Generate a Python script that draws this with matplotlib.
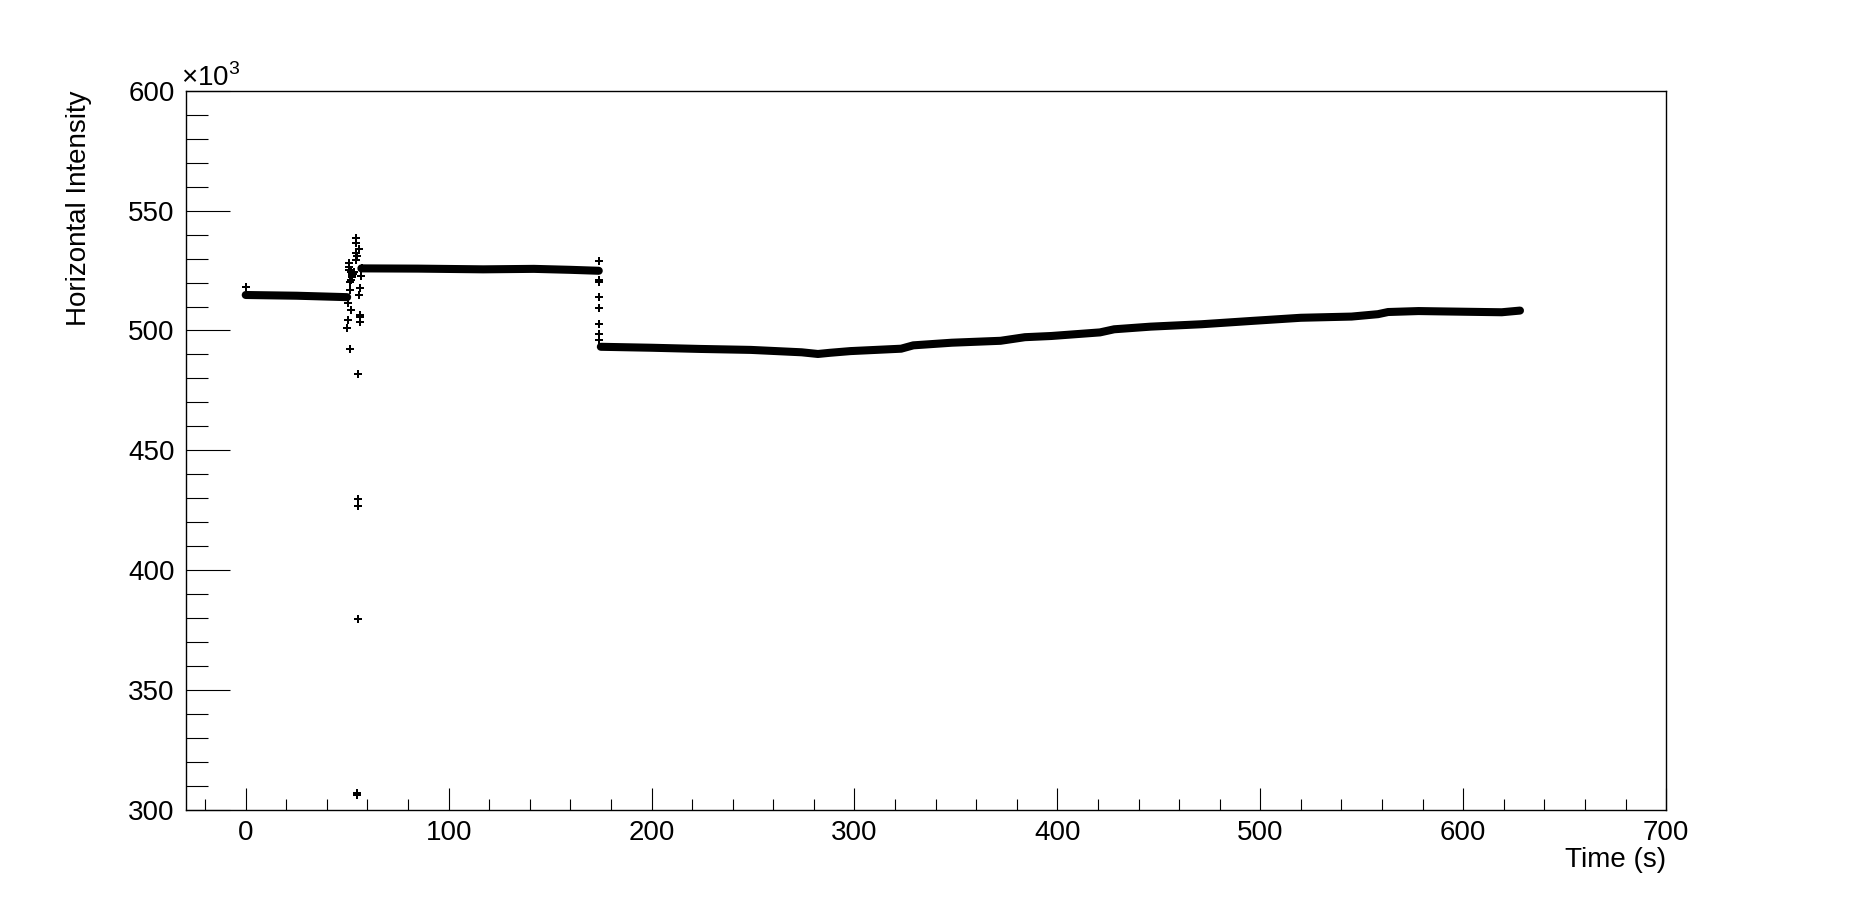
import matplotlib
matplotlib.use('Agg')
import matplotlib.pyplot as plt
from matplotlib.ticker import MultipleLocator

plt.rcParams['font.family'] = ['Liberation Sans', 'DejaVu Sans']
plt.rcParams['mathtext.fontset'] = 'custom'
plt.rcParams['mathtext.rm'] = 'Liberation Sans'

# steady stretches of the reading: time (s), intensity (x10^3)
seg1_t = [0, 25, 50]
seg1_v = [514.8, 514.5, 513.9]

seg2_t = [57, 85, 117, 142, 160, 174]
seg2_v = [525.9, 525.8, 525.5, 525.7, 525.3, 524.9]

seg3_t = [175, 200, 224, 249, 274, 282, 288, 298, 323, 329, 348, 372, 384, 397,
          421, 428, 446, 471, 496, 520, 545, 558, 563, 578, 602, 619, 628]
seg3_v = [493.2, 492.8, 492.3, 491.9, 490.9, 490.2, 490.7, 491.4, 492.4, 493.8,
          494.9, 495.7, 497.2, 497.7, 499.2, 500.5, 501.6, 502.6, 504.0, 505.3,
          505.8, 506.8, 507.7, 508.1, 507.8, 507.6, 508.3]

# single points around the jumps
pts_t = [0, 54.4, 54.4, 55.6, 54.4, 54.6, 54.4, 51.0, 51.0, 51.0, 51.8, 52.2,
         51.8, 53.4, 53.0, 52.6, 57.2, 56.7, 51.5, 51.5, 56.4, 55.6, 50.6, 51.8,
         56.4, 56.4, 56.4, 50.6, 50.1, 51.5, 55.1, 55.3, 55.3, 55.3, 55.0, 55.0,
         174, 174, 174, 174, 174, 174, 174, 174]
pts_v = [518.0, 538.4, 536.4, 533.9, 532.3, 531.0, 529.4, 528.0, 526.5, 525.2,
         524.5, 523.0, 521.0, 524.5, 523.5, 522.5, 525.9, 522.7, 520.4, 516.9,
         517.6, 514.8, 511.6, 508.5, 506.5, 505.5, 503.7, 504.4, 500.9, 492.2,
         481.7, 429.8, 426.6, 379.5, 307.0, 306.2,
         529.0, 521.1, 520.1, 513.8, 509.3, 502.6, 498.5, 496.0]

fig = plt.figure(figsize=(18.51, 9), dpi=100)
ax = fig.add_axes([0.1003, 0.1, 0.7998, 0.7992])

for t, v in [(seg1_t, seg1_v), (seg2_t, seg2_v), (seg3_t, seg3_v)]:
    ax.plot(t, v, color='black', lw=5.8, solid_capstyle='round')
ax.plot(pts_t, pts_v, ls='none', marker='P', ms=5.5, mew=0, color='black')

ax.set_xlim(-29.6, 700)
ax.set_ylim(300, 600)
ax.xaxis.set_major_locator(MultipleLocator(100))
ax.xaxis.set_minor_locator(MultipleLocator(20))
ax.yaxis.set_major_locator(MultipleLocator(50))
ax.yaxis.set_minor_locator(MultipleLocator(10))

ax.tick_params(which='both', direction='in', top=False, right=False,
               labelsize=20, width=0.8)
ax.tick_params(axis='y', which='major', length=31.7, pad=8)
ax.tick_params(axis='y', which='minor', length=15.8)
ax.tick_params(axis='x', which='major', length=15.6, pad=7.5)
ax.tick_params(axis='x', which='minor', length=7.7)
for s in ax.spines.values():
    s.set_linewidth(1.0)

fig.text(79 / 1851, 1 - 90.7 / 900, 'Horizontal Intensity', rotation=90,
         ha='center', va='top', fontsize=20)
fig.text(1666 / 1851, 1 - 860 / 900, 'Time (s)', ha='right', va='center',
         fontsize=20)
fig.text(181 / 1851, 1 - 86 / 900, '×10$^{3}$', ha='left', va='baseline',
         fontsize=20)

fig.savefig('out.png', dpi=100)
